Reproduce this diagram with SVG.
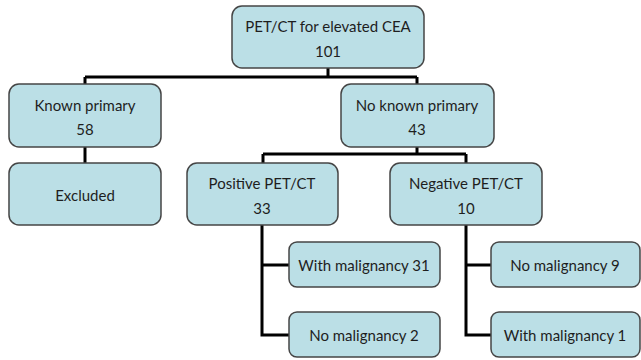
<svg xmlns="http://www.w3.org/2000/svg" width="641" height="360" viewBox="0 0 641 360">
<style>
.box{fill:#bbdfe6;stroke:#454545;stroke-width:1.5}
.t{font-family:Lato,"Open Sans",sans-serif;font-size:15px;fill:#1e1e1e;text-anchor:middle;dominant-baseline:central}
.c{fill:none;stroke:#000;stroke-width:3}
</style>
<rect width="641" height="360" fill="#fff"/>
<g id="connectors">
<path class="c" d="M328 68V77M85 77H417M85 77V84M417 77V84"/>
<path class="c" d="M85 147V163"/>
<path class="c" d="M417 147V154M263 154H466M263 154V163M466 154V163"/>
<path class="c" d="M262 225V335H289M262 265H289"/>
<path class="c" d="M466 225V335H491M466 265H491"/>
</g>
<g id="n-root"><rect class="box" x="232" y="6" width="192" height="62" rx="10"/><text class="t" x="328" y="26">PET/CT for elevated CEA</text><text class="t" x="328" y="51">101</text></g>
<g id="n-known"><rect class="box" x="9" y="84" width="152" height="63" rx="10"/><text class="t" x="85" y="105">Known primary</text><text class="t" x="85" y="129">58</text></g>
<g id="n-noknown"><rect class="box" x="341" y="84" width="153" height="63" rx="10"/><text class="t" x="417" y="105">No known primary</text><text class="t" x="417" y="129">43</text></g>
<g id="n-excluded"><rect class="box" x="9" y="163" width="152" height="62" rx="10"/><text class="t" x="85" y="195">Excluded</text></g>
<g id="n-positive"><rect class="box" x="187" y="163" width="151" height="62" rx="10"/><text class="t" x="262" y="183">Positive PET/CT</text><text class="t" x="262" y="208">33</text></g>
<g id="n-negative"><rect class="box" x="390" y="163" width="152" height="62" rx="10"/><text class="t" x="466" y="183">Negative PET/CT</text><text class="t" x="466" y="208">10</text></g>
<g id="n-pos-with"><rect class="box" x="289" y="242" width="151" height="45" rx="8"/><text class="t" x="364" y="265">With malignancy 31</text></g>
<g id="n-pos-no"><rect class="box" x="289" y="312" width="151" height="45" rx="8"/><text class="t" x="364" y="335">No malignancy 2</text></g>
<g id="n-neg-no"><rect class="box" x="491" y="242" width="149" height="45" rx="8"/><text class="t" x="565" y="265">No malignancy 9</text></g>
<g id="n-neg-with"><rect class="box" x="491" y="312" width="149" height="45" rx="8"/><text class="t" x="565" y="335">With malignancy 1</text></g>
</svg>
